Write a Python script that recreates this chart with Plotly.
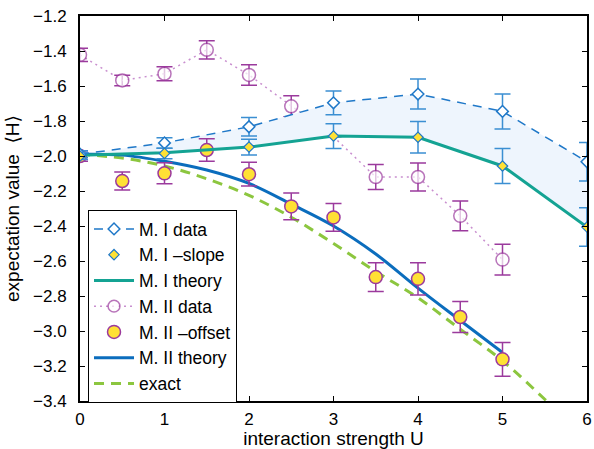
import plotly.graph_objects as go

# ---------------- data ----------------
U_int = [0, 1, 2, 3, 4, 5, 6]
m1_data = [-1.99, -1.925, -1.833, -1.696, -1.646, -1.745, -2.033]
m1_data_err = [0.02, 0.03, 0.053, 0.068, 0.086, 0.10, 0.11]
m1_slope = [-2.0, -1.985, -1.949, -1.886, -1.893, -2.057, -2.406]
m1_slope_err = [0.02, 0.03, 0.045, 0.071, 0.09, 0.10, 0.11]
m1_theory = [-1.995, -1.982, -1.949, -1.886, -1.893, -2.057, -2.406]

U_half = [0, 0.5, 1, 1.5, 2, 2.5, 3, 3.5, 4, 4.5, 5]
m2_data = [-1.422, -1.568, -1.530, -1.393, -1.537, -1.716, -1.89, -2.12, -2.12, -2.342, -2.592]
m2_data_err = [0.038, 0.03, 0.04, 0.052, 0.059, 0.06, 0.0, 0.071, 0.08, 0.085, 0.088]
m2_marker_size = [13, 13, 13, 13, 13, 13, 0, 13, 13, 13, 13]   # point at U=3 hidden
m2_offset = [-2.0, -2.143, -2.099, -1.966, -2.104, -2.288, -2.351, -2.692, -2.702, -2.92, -3.162]
m2_offset_err = [0.03, 0.051, 0.06, 0.064, 0.068, 0.076, 0.079, 0.082, 0.092, 0.089, 0.097]
m2_theory = [-1.99, -1.995, -2.03, -2.08, -2.157, -2.275, -2.40, -2.56, -2.755, -2.94, -3.123]

U_exact = [0, 0.5, 1, 1.5, 2, 2.5, 3, 3.5, 4, 4.5, 5, 5.5, 6]
exact = [-1.99, -2.012, -2.057, -2.13, -2.225, -2.35, -2.50, -2.66, -2.81, -2.99, -3.17, -3.39, -3.62]

x_ticks = [0, 1, 2, 3, 4, 5, 6]
y_ticks = [-3.4, -3.2, -3.0, -2.8, -2.6, -2.4, -2.2, -2.0, -1.8, -1.6, -1.4, -1.2]

# ---------------- colours ----------------
C_M1 = "#1f78c8"
C_M1_ERR = "#3b8fd2"
C_TEAL = "#14a393"
C_PURPLE = "#9b3a9d"
C_PURPLE_LIGHT = "#c98fcf"
C_YELLOW = "#ffe135"
C_BLUE = "#0b6dbd"
C_GREEN = "#8cc63f"
C_FILL = "#eef5fd"

fig = go.Figure()

# M. II data (drawn first so the shaded band covers it, as in the original)
fig.add_trace(go.Scatter(
    x=U_half, y=m2_data, mode="lines+markers", name="M. II data",
    line=dict(color=C_PURPLE_LIGHT, width=1.5, dash="2px,4px"),
    marker=dict(symbol="circle", size=m2_marker_size, color="white",
                line=dict(color=C_PURPLE, width=1.5)),
    error_y=dict(type="data", array=m2_data_err, color=C_PURPLE,
                 thickness=1.5, width=8),
    legendrank=4, legendgroup="g4"))

# shaded region between M. I data and M. I theory
fig.add_trace(go.Scatter(
    x=U_int + U_int[::-1], y=m1_data + m1_theory[::-1],
    fill="toself", fillcolor=C_FILL, line=dict(width=0),
    mode="lines", showlegend=False, hoverinfo="skip"))

# exact
fig.add_trace(go.Scatter(
    x=U_exact, y=exact, mode="lines", name="exact",
    line=dict(color=C_GREEN, width=3, dash="10px,7px", shape="spline"),
    legendrank=7, legendgroup="g7"))

# M. II theory
fig.add_trace(go.Scatter(
    x=U_half, y=m2_theory, mode="lines", name="M. II theory",
    line=dict(color=C_BLUE, width=3, shape="spline"),
    legendrank=6, legendgroup="g6"))

# M. II -offset
fig.add_trace(go.Scatter(
    x=U_half, y=m2_offset, mode="markers", name="M. II \u2013offset",
    marker=dict(symbol="circle", size=13, color=C_YELLOW,
                line=dict(color=C_PURPLE, width=1.5)),
    error_y=dict(type="data", array=m2_offset_err, color=C_PURPLE,
                 thickness=1.5, width=8),
    legendrank=5, legendgroup="g5"))

# M. I theory
fig.add_trace(go.Scatter(
    x=U_int, y=m1_theory, mode="lines", name="M. I theory",
    line=dict(color=C_TEAL, width=3),
    legendrank=3, legendgroup="g3"))

# M. I data
fig.add_trace(go.Scatter(
    x=U_int, y=m1_data, mode="lines+markers", name="M. I data",
    line=dict(color=C_M1, width=1.5, dash="9px,7px"),
    marker=dict(symbol="diamond", size=9, color="white",
                line=dict(color=C_M1, width=1.5)),
    error_y=dict(type="data", array=m1_data_err, color=C_M1_ERR,
                 thickness=1.5, width=8),
    legendrank=1, legendgroup="g1"))

# M. I -slope
fig.add_trace(go.Scatter(
    x=U_int, y=m1_slope, mode="markers", name="M. I \u2013slope",
    marker=dict(symbol="diamond", size=8, color=C_YELLOW,
                line=dict(color=C_M1, width=1.2)),
    error_y=dict(type="data", array=m1_slope_err, color=C_M1_ERR,
                 thickness=1.5, width=8),
    legendrank=2, legendgroup="g2"))

FONT = "Liberation Sans, Arial, DejaVu Sans, sans-serif"

fig.update_layout(
    width=594, height=449,
    margin=dict(l=80, r=7, t=16, b=48, autoexpand=False),
    paper_bgcolor="white", plot_bgcolor="white",
    font=dict(family=FONT, size=16, color="black"),
    showlegend=True,
    legend=dict(
        x=0.0158, y=0.496, xanchor="left", yanchor="top",
        bgcolor="white", bordercolor="black", borderwidth=1,
        font=dict(family=FONT, size=17.5, color="black"),
        traceorder="normal", tracegroupgap=0, itemwidth=40),
    xaxis=dict(
        range=[0, 6], tickvals=x_ticks, ticktext=[str(v) for v in x_ticks],
        ticks="inside", ticklen=5, tickcolor="black", tickwidth=1,
        ticklabelstandoff=2, ticklabeloverflow="allow",
        tickfont=dict(size=17),
        showline=True, linecolor="black", linewidth=2, mirror="ticks",
        showgrid=False, zeroline=False,
        title=dict(text="interaction strength U", standoff=5,
                   font=dict(size=19))),
    yaxis=dict(
        range=[-3.4, -1.2], tickvals=y_ticks,
        ticktext=[("\u2212%.1f" % abs(v)) for v in y_ticks],
        ticks="inside", ticklen=5, tickcolor="black", tickwidth=1,
        ticklabelstandoff=8, ticklabeloverflow="allow",
        tickfont=dict(size=17),
        showline=True, linecolor="black", linewidth=2, mirror="ticks",
        showgrid=False, zeroline=False,
        title=dict(text="expectation value  \u27e8H\u27e9", standoff=8,
                   font=dict(size=19))),
)

fig.write_html("out.html",
               config={"displayModeBar": False},
               post_script="document.body.style.margin='0';document.body.style.overflow='hidden';")
